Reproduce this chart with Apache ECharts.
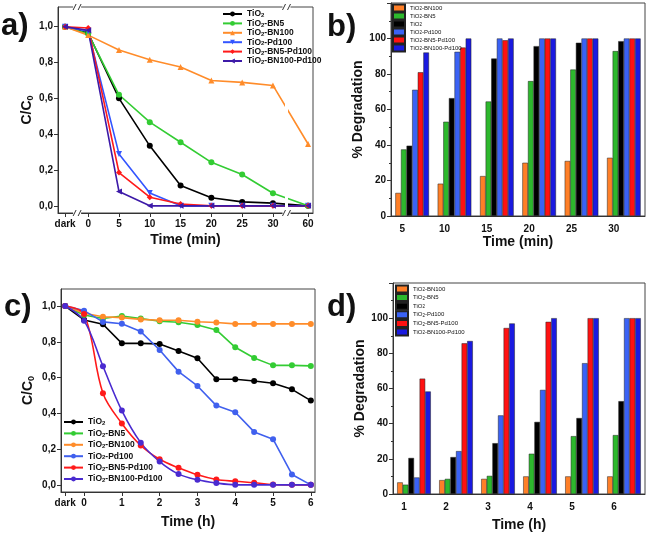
<!DOCTYPE html>
<html><head><meta charset="utf-8">
<script src="https://cdn.jsdelivr.net/npm/echarts@6/dist/echarts.min.js"></script>
<style>html,body{margin:0;padding:0;background:#fff}#c{width:655px;height:533px}</style>
</head><body><div id="c"></div>
<script>
// ---------- Data ----------
const FONT = 'Liberation Sans, Arial, sans-serif';
// Panel a (C/C0 vs time, min)
const timesA = ['dark','0','5','10','15','20','25','30','60'];
const aTiO2        = [1.0,0.965,0.60,0.335,0.113,0.045,0.022,0.015,0.0];
const aBN5         = [1.0,0.96,0.62,0.467,0.355,0.243,0.175,0.07,0.0];
const aBN100       = [1.0,0.953,0.87,0.816,0.775,0.70,0.689,0.672,0.345];
const aPd100       = [1.0,0.975,0.29,0.072,0.0,0.0,0.0,0.0,0.0];
const aBN5Pd100    = [1.0,0.993,0.186,0.048,0.01,0.0,0.0,0.0,0.0];
const aBN100Pd100  = [1.0,0.98,0.08,0.0,0.0,0.0,0.0,0.0,0.0];
const yTicksLine   = [0,0.2,0.4,0.6,0.8,1.0];

// Panel b (% degradation vs time, min)
const timesB = ['5','10','15','20','25','30'];
const bBN100      = [13,18.2,22.5,30,31,32.8];
const bBN5        = [37.5,53.1,64.5,76,82.5,92.9];
const bTiO2       = [39.6,66.4,88.7,95.7,97.6,98.5];
const bPd100      = [71.1,92.5,100,100,100,100];
const bBN5Pd100   = [81,94.9,99,100,100,100];
const bBN100Pd100 = [92.1,100,100,100,100,100];

// Panel c (C/C0 vs time, h)
const timesC = ['dark',0,0.5,1,1.5,2,2.5,3,3.5,4,4.5,5,5.5,6];
const cTickLabels = ['dark','0','1','2','3','4','5','6'];
const cTiO2       = [1.0,0.922,0.898,0.791,0.791,0.788,0.749,0.708,0.59,0.59,0.581,0.568,0.534,0.471];
const cBN5        = [1.0,0.95,0.93,0.944,0.93,0.915,0.909,0.894,0.866,0.769,0.709,0.668,0.668,0.665];
const cBN100      = [1.0,0.959,0.94,0.935,0.925,0.92,0.92,0.912,0.908,0.90,0.90,0.90,0.90,0.90];
const cPd100      = [1.0,0.974,0.911,0.901,0.857,0.754,0.633,0.553,0.443,0.406,0.296,0.255,0.058,0.0];
const cBN5Pd100   = [1.0,0.955,0.512,0.343,0.22,0.143,0.095,0.056,0.03,0.02,0.012,0.002,0.0,0.0];
const cBN100Pd100 = [1.0,0.918,0.663,0.415,0.236,0.13,0.06,0.028,0.01,0.0,0.0,0.0,0.0,0.0];

// Panel d (% degradation vs time, h)
const timesD = ['1','2','3','4','5','6'];
const dBN100      = [6.6,7.9,8.6,10,10,10];
const dBN5        = [5.3,8.6,10.3,22.9,32.9,33.5];
const dTiO2       = [20.5,21,28.9,41,43.2,52.8];
const dPd100      = [9.4,24.4,44.7,59.2,74.4,100];
const dBN5Pd100   = [65.6,85.7,94.4,97.9,100,100];
const dBN100Pd100 = [58.3,87,97,100,100,100];

// ---------- Helpers ----------
const DARK_A = -3.75, SIXTY_A = 35.7;   // broken-axis placement
function posA(t){ if(t==='dark') return DARK_A; if(t==='60') return SIXTY_A; return +t; }
function posC(t){ return t==='dark' ? -0.5 : +t; }
const aPos = timesA.map(posA);
const cPos = cTickLabels.map(posC);
function lbl(pos, labels){ return v => { for(let i=0;i<pos.length;i++){ if(Math.abs(pos[i]-v)<1e-6) return labels[i]; } return ''; }; }
function sub(name){
  const rest = name.slice(4);
  return '{t|TiO}{s|2}' + (rest ? '{t|' + rest + '}' : '');
}
const axisColor = '#333';
const tickFont = {fontFamily:FONT, fontWeight:'bold', fontSize:10, color:'#111'};

function lineSeries(id, name, times, posFn, vals, color, symbol, rot, smooth){
  return {type:'line', name:id+':'+name, xAxisIndex: id==='a'?0:2, yAxisIndex: id==='a'?0:2,
    data: times.map((t,i)=>[posFn(t), vals[i]]),
    symbol: symbol, symbolSize: 6, symbolRotate: rot||0, smooth: smooth||false,
    itemStyle:{color:color}, lineStyle:{color:color, width:1.6}, emphasis:{disabled:true}};
}
function barSeries(id, name, vals, color){
  return {type:'bar', name:id+':'+name, xAxisIndex: id==='b'?1:3, yAxisIndex: id==='b'?1:3,
    data: vals, barWidth: 5.6, barGap:'0%',
    itemStyle:{color:color, borderColor:'#222', borderWidth:0.5}, emphasis:{disabled:true}};
}
function lineY(gi, nameGap){
  return {gridIndex:gi, type:'value', min:-0.04, max: gi===0?1.11:1.095,
    axisLine:{show:true, onZero:false, lineStyle:{color:axisColor, width:1}},
    axisTick:{show:true, customValues:yTicksLine, length:4, lineStyle:{color:axisColor}},
    axisLabel:Object.assign({customValues:yTicksLine, margin:5, formatter:v=>v.toFixed(1).replace('.',',')}, tickFont),
    splitLine:{show:false},
    name:'{a|C/C}{s|0}', nameLocation:'middle', nameGap:nameGap, nameRotate:90,
    nameTextStyle:{rich:{a:{fontFamily:FONT, fontWeight:'bold', fontSize:14, color:'#111', lineHeight:16},
                         s:{fontFamily:FONT, fontWeight:'bold', fontSize:9, color:'#111', lineHeight:8, verticalAlign:'bottom'}}}};
}
function barY(gi){
  return {gridIndex:gi, type:'value', min:0, max:120, interval:20,
    axisLine:{show:true, onZero:false, lineStyle:{color:axisColor, width:1}},
    axisTick:{show:true, length:4, lineStyle:{color:axisColor}},
    minorTick:{show:true, splitNumber:2, length:2, lineStyle:{color:axisColor}},
    axisLabel:Object.assign({margin:5, showMaxLabel:false}, tickFont),
    splitLine:{show:false},
    name:'% Degradation', nameLocation:'middle', nameGap:26, nameRotate:90,
    nameTextStyle:{fontFamily:FONT, fontWeight:'bold', fontSize:14, color:'#111'}};
}
function barX(gi, cats, nm, gap){
  return {gridIndex:gi, type:'category', data:cats,
    axisLine:{show:true, onZero:false, lineStyle:{color:axisColor, width:1}},
    axisTick:{show:false},
    axisLabel:Object.assign({margin:8, padding:[0,20,0,0]}, tickFont),
    name:nm, nameLocation:'middle', nameGap:gap,
    nameTextStyle:{fontFamily:FONT, fontWeight:'bold', fontSize:14, color:'#111'}};
}
const legRichLine = {t:{fontFamily:FONT, fontWeight:'bold', fontSize:8.5, color:'#111', lineHeight:9},
                     s:{fontFamily:FONT, fontWeight:'bold', fontSize:6, color:'#111', lineHeight:5, verticalAlign:'bottom'}};
const legRichBar = {t:{fontFamily:FONT, fontSize:6, color:'#111', lineHeight:7},
                    s:{fontFamily:FONT, fontSize:4.5, color:'#111', lineHeight:4, verticalAlign:'bottom'}};

const lineNames = ['TiO2','TiO2-BN5','TiO2-BN100','TiO2-Pd100','TiO2-BN5-Pd100','TiO2-BN100-Pd100'];
const barNames  = ['TiO2-BN100','TiO2-BN5','TiO2','TiO2-Pd100','TiO2-BN5-Pd100','TiO2-BN100-Pd100'];

const chart = echarts.init(document.getElementById('c'), null, {renderer:'canvas'});
const gridStyle = {show:true, borderColor:'#444', borderWidth:1, backgroundColor:'transparent', containLabel:false};
const option = {
  animation:false,
  grid:[
    Object.assign({left:58, top:7, width:255, height:206}, gridStyle),
    Object.assign({left:391, top:3, width:254, height:213}, gridStyle),
    Object.assign({left:61, top:289, width:254, height:203}, gridStyle),
    Object.assign({left:393, top:283, width:252, height:212}, gridStyle)
  ],
  xAxis:[
    {gridIndex:0, type:'value', min:-4.9, max:36.5,
     axisLine:{show:true, onZero:false, lineStyle:{color:axisColor}},
     axisTick:{show:true, customValues:aPos, length:4, lineStyle:{color:axisColor}},
     axisLabel:Object.assign({customValues:aPos, formatter:lbl(aPos, timesA), margin:6}, tickFont),
     splitLine:{show:false},
     name:'Time (min)', nameLocation:'middle', nameGap:20,
     nameTextStyle:{fontFamily:FONT, fontWeight:'bold', fontSize:14, color:'#111'}},
    barX(1, timesB, 'Time (min)', 17),
    {gridIndex:2, type:'value', min:-0.61, max:6.11,
     axisLine:{show:true, onZero:false, lineStyle:{color:axisColor}},
     axisTick:{show:true, customValues:cPos, length:4, lineStyle:{color:axisColor}},
     axisLabel:Object.assign({customValues:cPos, formatter:lbl(cPos, cTickLabels), margin:6}, tickFont),
     splitLine:{show:false},
     name:'Time (h)', nameLocation:'middle', nameGap:23,
     nameTextStyle:{fontFamily:FONT, fontWeight:'bold', fontSize:14, color:'#111'}},
    barX(3, timesD, 'Time (h)', 24)
  ],
  yAxis:[ lineY(0, 22), barY(1), lineY(2, 25), barY(3) ],
  legend:[
    {orient:'vertical', left:222, top:9.5, padding:0, itemWidth:19, itemHeight:6, itemGap:0.4,
     data: lineNames.map(n=>'a:'+n), formatter:n=>sub(n.slice(2)), textStyle:{rich:legRichLine}, selectedMode:false},
    {orient:'vertical', left:392, top:3.5, padding:0, itemWidth:12, itemHeight:7, itemGap:-1, icon:'rect',
     data: barNames.map(n=>'b:'+n), formatter:n=>sub(n.slice(2)), textStyle:{rich:legRichBar}, selectedMode:false},
    {orient:'vertical', left:63, top:417.5, padding:0, itemWidth:19, itemHeight:6, itemGap:2.4,
     data: lineNames.map(n=>'c:'+n), formatter:n=>sub(n.slice(2)), textStyle:{rich:legRichLine}, selectedMode:false},
    {orient:'vertical', left:395, top:284.5, padding:0, itemWidth:12, itemHeight:7, itemGap:-0.4, icon:'rect',
     data: barNames.map(n=>'d:'+n), formatter:n=>sub(n.slice(2)), textStyle:{rich:legRichBar}, selectedMode:false}
  ],
  series:[
    lineSeries('a','TiO2', timesA, posA, aTiO2, '#000000', 'circle'),
    lineSeries('a','TiO2-BN5', timesA, posA, aBN5, '#33cc33', 'circle'),
    lineSeries('a','TiO2-BN100', timesA, posA, aBN100, '#ff8c2a', 'triangle'),
    lineSeries('a','TiO2-Pd100', timesA, posA, aPd100, '#3355ff', 'triangle', 180),
    lineSeries('a','TiO2-BN5-Pd100', timesA, posA, aBN5Pd100, '#ff1a1a', 'diamond'),
    lineSeries('a','TiO2-BN100-Pd100', timesA, posA, aBN100Pd100, '#3d1aa8', 'triangle', 90),

    barSeries('b','TiO2-BN100', bBN100, '#ff7f27'),
    barSeries('b','TiO2-BN5', bBN5, '#2db82d'),
    barSeries('b','TiO2', bTiO2, '#000000'),
    barSeries('b','TiO2-Pd100', bPd100, '#3a62f5'),
    barSeries('b','TiO2-BN5-Pd100', bBN5Pd100, '#ff1111'),
    barSeries('b','TiO2-BN100-Pd100', bBN100Pd100, '#1a1ae0'),

    lineSeries('c','TiO2', timesC, posC, cTiO2, '#000000', 'circle'),
    lineSeries('c','TiO2-BN5', timesC, posC, cBN5, '#33cc33', 'circle'),
    lineSeries('c','TiO2-BN100', timesC, posC, cBN100, '#ff8c2a', 'circle'),
    lineSeries('c','TiO2-Pd100', timesC, posC, cPd100, '#4060ee', 'circle'),
    lineSeries('c','TiO2-BN5-Pd100', timesC, posC, cBN5Pd100, '#ff1a1a', 'circle', 0, 0.35),
    lineSeries('c','TiO2-BN100-Pd100', timesC, posC, cBN100Pd100, '#4a2bd0', 'circle', 0, 0.35),

    barSeries('d','TiO2-BN100', dBN100, '#ff7f27'),
    barSeries('d','TiO2-BN5', dBN5, '#2db82d'),
    barSeries('d','TiO2', dTiO2, '#000000'),
    barSeries('d','TiO2-Pd100', dPd100, '#3a62f5'),
    barSeries('d','TiO2-BN5-Pd100', dBN5Pd100, '#ff1111'),
    barSeries('d','TiO2-BN100-Pd100', dBN100Pd100, '#1a1ae0')
  ]
};
chart.setOption(option);

// Panel labels and axis-break marks
const panelFont = {fontFamily:FONT, fontWeight:'bold', fontSize:31, fill:'#111'};
const graphics = [
  {type:'text', left:1, top:11, style:Object.assign({text:'a)'}, panelFont)},
  {type:'text', left:327, top:12, style:Object.assign({text:'b)'}, panelFont)},
  {type:'text', left:4, top:292, style:Object.assign({text:'c)'}, panelFont)},
  {type:'text', left:327, top:292, style:Object.assign({text:'d)'}, panelFont)}
];
const yTop = chart.convertToPixel({yAxisIndex:0}, 1.11);
const yBot = chart.convertToPixel({yAxisIndex:0}, -0.04);
// gap in the plotted lines across the 30→60 break (below the legend)
const xb2 = chart.convertToPixel({xAxisIndex:0}, 32.2);
const yGapTop = chart.convertToPixel({yAxisIndex:0}, 0.62);
graphics.push({type:'rect', shape:{x:xb2-1.5, y:yGapTop, width:3, height:yBot-yGapTop}, style:{fill:'#fff'}, z:90});
[-1.8, 32.2].forEach(b => {
  const x = chart.convertToPixel({xAxisIndex:0}, b);
  [yTop, yBot].forEach(y => {
    graphics.push({type:'rect', shape:{x:x-4, y:y-2, width:8, height:4}, style:{fill:'#fff'}, z:100});
    graphics.push({type:'line', shape:{x1:x-4, y1:y+3, x2:x-1, y2:y-3}, style:{stroke:'#333', lineWidth:1}, z:101});
    graphics.push({type:'line', shape:{x1:x+1, y1:y+3, x2:x+4, y2:y-3}, style:{stroke:'#333', lineWidth:1}, z:101});
  });
});
chart.setOption({graphic:graphics});
</script>
</body></html>
